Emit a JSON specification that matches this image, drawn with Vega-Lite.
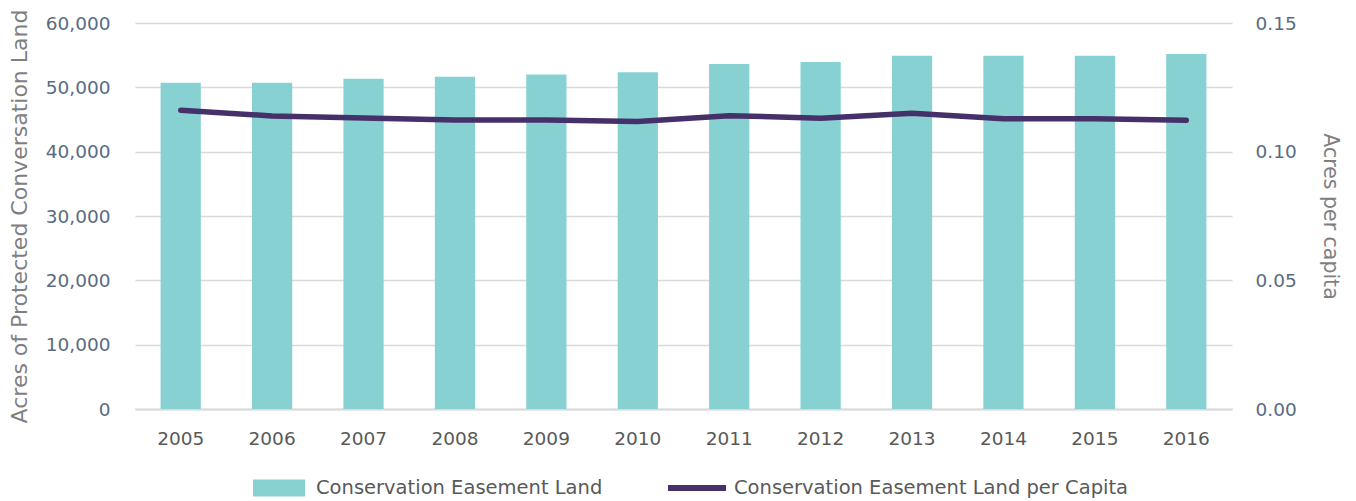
{
  "$schema": "https://vega.github.io/schema/vega-lite/v6.json",
  "width": 1097,
  "height": 386,
  "autosize": {"type": "none"},
  "padding": {"left": 135, "top": 23, "right": 124, "bottom": 92},
  "background": "white",
  "config": {
    "view": {"stroke": null},
    "font": "DejaVu Sans",
    "axis": {"labelFont": "DejaVu Sans", "titleFont": "DejaVu Sans", "titleFontWeight": "normal"},
    "legend": {"labelFont": "DejaVu Sans"}
  },
  "data": {
    "values": [
      {"year": "2005", "land": 50700, "percap": 0.1161},
      {"year": "2006", "land": 50700, "percap": 0.1139},
      {"year": "2007", "land": 51330, "percap": 0.1131},
      {"year": "2008", "land": 51650, "percap": 0.1123},
      {"year": "2009", "land": 52000, "percap": 0.1123},
      {"year": "2010", "land": 52340, "percap": 0.1117},
      {"year": "2011", "land": 53630, "percap": 0.1140},
      {"year": "2012", "land": 53940, "percap": 0.1130},
      {"year": "2013", "land": 54920, "percap": 0.1149},
      {"year": "2014", "land": 54920, "percap": 0.1128},
      {"year": "2015", "land": 54920, "percap": 0.1128},
      {"year": "2016", "land": 55180, "percap": 0.1122}
    ]
  },
  "encoding": {
    "x": {
      "field": "year",
      "type": "nominal",
      "scale": {"paddingInner": 0.56},
      "axis": {
        "title": null,
        "labelAngle": 0,
        "labelFontSize": 18.5,
        "labelColor": "#595959",
        "labelPadding": 20,
        "ticks": false,
        "domainColor": "#D9D9D9",
        "domainWidth": 2
      }
    }
  },
  "layer": [
    {
      "mark": {"type": "bar", "color": "#87D1D3"},
      "encoding": {
        "y": {
          "field": "land",
          "type": "quantitative",
          "scale": {"domain": [0, 60000]},
          "axis": {
            "title": "Acres of Protected Conversation Land",
            "titleFontSize": 22,
            "titleColor": "#7F7F7F",
            "titlePadding": 14,
            "values": [0, 10000, 20000, 30000, 40000, 50000, 60000],
            "format": ",.0f",
            "labelFontSize": 18.5,
            "labelColor": "#5A6B80",
            "labelPadding": 25,
            "ticks": false,
            "domain": false,
            "gridColor": "#D9D9D9",
            "gridWidth": 1.5
          }
        },
        "fill": {
          "datum": "Conservation Easement Land",
          "type": "nominal",
          "scale": {"range": ["#87D1D3"]},
          "legend": {
            "title": null,
            "orient": "none",
            "legendX": 118,
            "legendY": 439,
            "padding": 0,
            "symbolType": "M-1,-0.33H1V0.33H-1Z",
            "symbolSize": 2704,
            "symbolStrokeWidth": 0,
            "symbolOpacity": 1,
            "labelFontSize": 19.5,
            "labelColor": "#595959",
            "labelOffset": 11,
            "labelLimit": 600
          }
        }
      }
    },
    {
      "mark": {"type": "line", "strokeWidth": 5.5, "strokeCap": "round", "strokeJoin": "round"},
      "encoding": {
        "y": {
          "field": "percap",
          "type": "quantitative",
          "scale": {"domain": [0, 0.15]},
          "axis": {
            "orient": "right",
            "title": "Acres per capita",
            "titleFontSize": 20.5,
            "titleColor": "#7F7F7F",
            "titlePadding": 23,
            "values": [0, 0.05, 0.1, 0.15],
            "format": ".2f",
            "labelFontSize": 18.5,
            "labelColor": "#5A6B80",
            "labelPadding": 23,
            "ticks": false,
            "domain": false,
            "grid": false
          }
        },
        "stroke": {
          "datum": "Conservation Easement Land per Capita",
          "type": "nominal",
          "scale": {"range": ["#45306A"]},
          "legend": {
            "title": null,
            "orient": "none",
            "legendX": 530,
            "legendY": 433,
            "padding": 0,
            "symbolType": "stroke",
            "symbolSize": 3364,
            "symbolStrokeWidth": 6,
            "labelFontSize": 19.5,
            "labelColor": "#595959",
            "labelOffset": 5,
            "labelLimit": 600
          }
        }
      }
    }
  ],
  "resolve": {"scale": {"y": "independent", "fill": "independent", "stroke": "independent"}}
}
